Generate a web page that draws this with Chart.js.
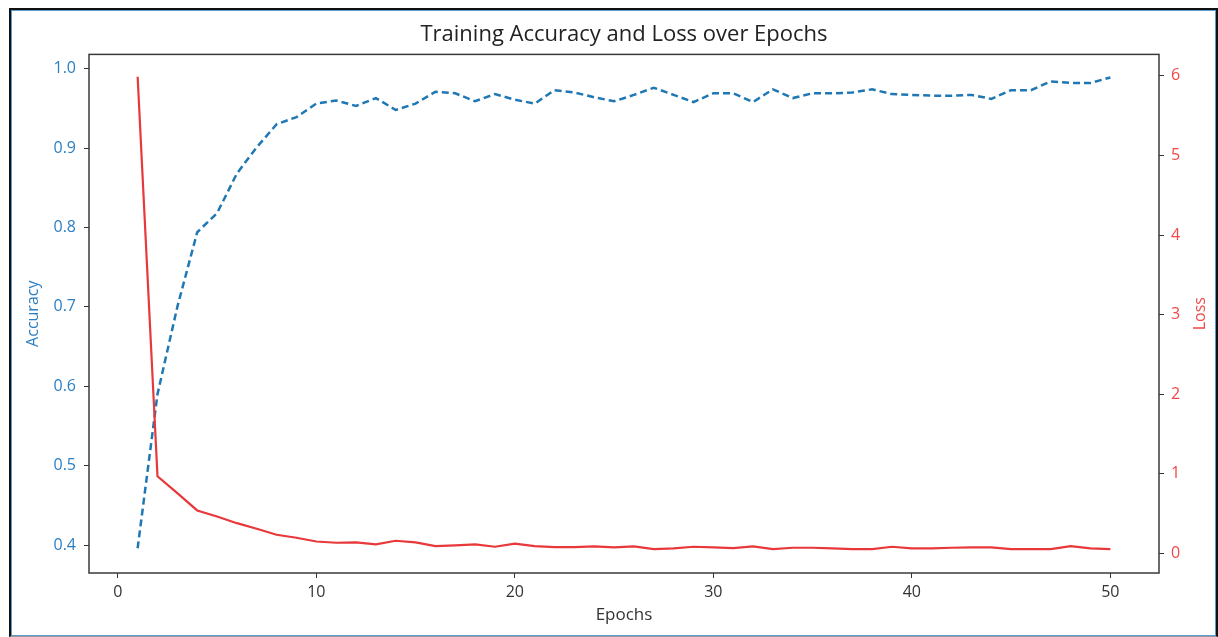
<!DOCTYPE html>
<html>
<head>
<meta charset="utf-8">
<script src="https://cdn.jsdelivr.net/npm/chart.js@4.4.0/dist/chart.umd.min.js"></script>
<style>
  html, body { margin: 0; padding: 0; background: #fff; }
  body { width: 1218px; height: 637px; position: relative; overflow: hidden; }
  #frame {
    position: absolute; left: 9px; top: 8px; width: 1209px; height: 629px;
    box-sizing: border-box; border: 2px solid #111; border-bottom: 1px solid #9a9a9a;
    box-shadow: inset 0 0 0 1px #5b9bd0;
  }
  #out { position: absolute; left: 0; top: 0; }
</style>
</head>
<body>
<div id="frame"></div>
<canvas id="out" width="1218" height="637"></canvas>
<script>
const epochs = [1, 2, 3, 4, 5, 6, 7, 8, 9, 10, 11, 12, 13, 14, 15, 16, 17, 18, 19, 20,
  21, 22, 23, 24, 25, 26, 27, 28, 29, 30, 31, 32, 33, 34, 35, 36, 37, 38, 39, 40,
  41, 42, 43, 44, 45, 46, 47, 48, 49, 50];

const accuracy = [0.396, 0.59, 0.70, 0.794, 0.818, 0.868, 0.901, 0.930, 0.939, 0.956,
  0.960, 0.953, 0.963, 0.948, 0.956, 0.971, 0.969, 0.959, 0.968, 0.961,
  0.956, 0.973, 0.970, 0.964, 0.959, 0.967, 0.976, 0.967, 0.958, 0.969,
  0.969, 0.958, 0.974, 0.963, 0.969, 0.969, 0.970, 0.974, 0.968, 0.967,
  0.966, 0.966, 0.967, 0.962, 0.973, 0.973, 0.984, 0.982, 0.982, 0.989];

const loss = [5.99, 0.97, 0.757, 0.54, 0.464, 0.38, 0.31, 0.235, 0.197, 0.15,
  0.134, 0.138, 0.113, 0.159, 0.138, 0.092, 0.10, 0.113, 0.084, 0.122,
  0.092, 0.079, 0.079, 0.088, 0.075, 0.088, 0.054, 0.063, 0.084, 0.075,
  0.067, 0.088, 0.054, 0.071, 0.071, 0.063, 0.054, 0.054, 0.084, 0.063,
  0.063, 0.071, 0.075, 0.075, 0.054, 0.054, 0.054, 0.092, 0.063, 0.054];

const epochTicks = [0, 10, 20, 30, 40, 50];
const accTicks = [0.4, 0.5, 0.6, 0.7, 0.8, 0.9, 1.0];
const lossTicks = [0, 1, 2, 3, 4, 5, 6];

const blue = "#1f77b4";
const blueText = "#2b7fc2";
const red = "#e8383a";
const redText = "#f04848";
const dark = "#333";
const fontFamily = "'Open Sans', sans-serif";

// frame around the plot + the right-hand label, which reads bottom-to-top
const boxPlugin = {
  id: "box",
  afterDraw(chart) {
    const { ctx, chartArea: a } = chart;
    ctx.save();
    ctx.strokeStyle = "#3a3a3a";
    ctx.lineWidth = 1.5;
    ctx.strokeRect(a.left, a.top, a.right - a.left, a.bottom - a.top);
    ctx.translate(1200, (a.top + a.bottom) / 2);
    ctx.rotate(-Math.PI / 2);
    ctx.fillStyle = redText;
    ctx.font = "16px " + fontFamily;
    ctx.textAlign = "center";
    ctx.textBaseline = "middle";
    ctx.fillText("Loss", 0, 0);
    ctx.restore();
  }
};

const ctx = document.getElementById("out").getContext("2d");

new Chart(ctx, {
  type: "line",
  data: {
    datasets: [
      {
        label: "Loss",
        data: epochs.map((e, i) => ({ x: e, y: loss[i] })),
        yAxisID: "y1",
        borderColor: red,
        borderWidth: 2.2,
        pointRadius: 0,
        tension: 0,
        order: 0
      },
      {
        label: "Accuracy",
        data: epochs.map((e, i) => ({ x: e, y: accuracy[i] })),
        yAxisID: "y",
        borderColor: blue,
        borderWidth: 2.5,
        borderDash: [7, 4],
        pointRadius: 0,
        tension: 0,
        order: 1
      }
    ]
  },
  options: {
    responsive: false,
    animation: false,
    devicePixelRatio: 1,
    layout: { padding: 0 },
    plugins: {
      legend: { display: false },
      tooltip: { enabled: false },
      title: {
        display: true,
        fullSize: false,
        text: "Training Accuracy and Loss over Epochs",
        color: "#222",
        font: { family: fontFamily, size: 22, weight: "normal" },
        padding: { top: 22, bottom: 6 }
      }
    },
    scales: {
      x: {
        type: "linear",
        min: -1.45,
        max: 52.45,
        afterBuildTicks: s => { s.ticks = epochTicks.map(v => ({ value: v })); },
        afterFit: s => { s.height = 64; },
        border: { display: false },
        grid: { drawOnChartArea: false, drawTicks: true, tickLength: 5, color: dark },
        ticks: { color: dark, padding: 5, font: { family: fontFamily, size: 16 } },
        title: {
          display: true, text: "Epochs", color: dark,
          font: { family: fontFamily, size: 17 },
          padding: { top: 0, bottom: 12 }
        }
      },
      y: {
        position: "left",
        min: 0.3648,
        max: 1.018,
        afterBuildTicks: s => { s.ticks = accTicks.map(v => ({ value: v })); },
        afterFit: s => { s.width = 89; },
        border: { display: false },
        grid: { drawOnChartArea: false, drawTicks: true, tickLength: 5, color: dark },
        ticks: {
          color: blueText, padding: 8,
          font: { family: fontFamily, size: 16 },
          callback: v => v.toFixed(1)
        },
        title: {
          display: true, text: "Accuracy", color: blueText,
          font: { family: fontFamily, size: 16 },
          padding: { top: 24, bottom: 0 }
        }
      },
      y1: {
        position: "right",
        min: -0.246,
        max: 6.27,
        afterBuildTicks: s => { s.ticks = lossTicks.map(v => ({ value: v })); },
        afterFit: s => { s.width = 59; },
        border: { display: false },
        grid: { drawOnChartArea: false, drawTicks: true, tickLength: 5, color: dark },
        ticks: { color: redText, padding: 7, font: { family: fontFamily, size: 16 } }
      }
    }
  },
  plugins: [boxPlugin]
});
</script>
</body>
</html>
